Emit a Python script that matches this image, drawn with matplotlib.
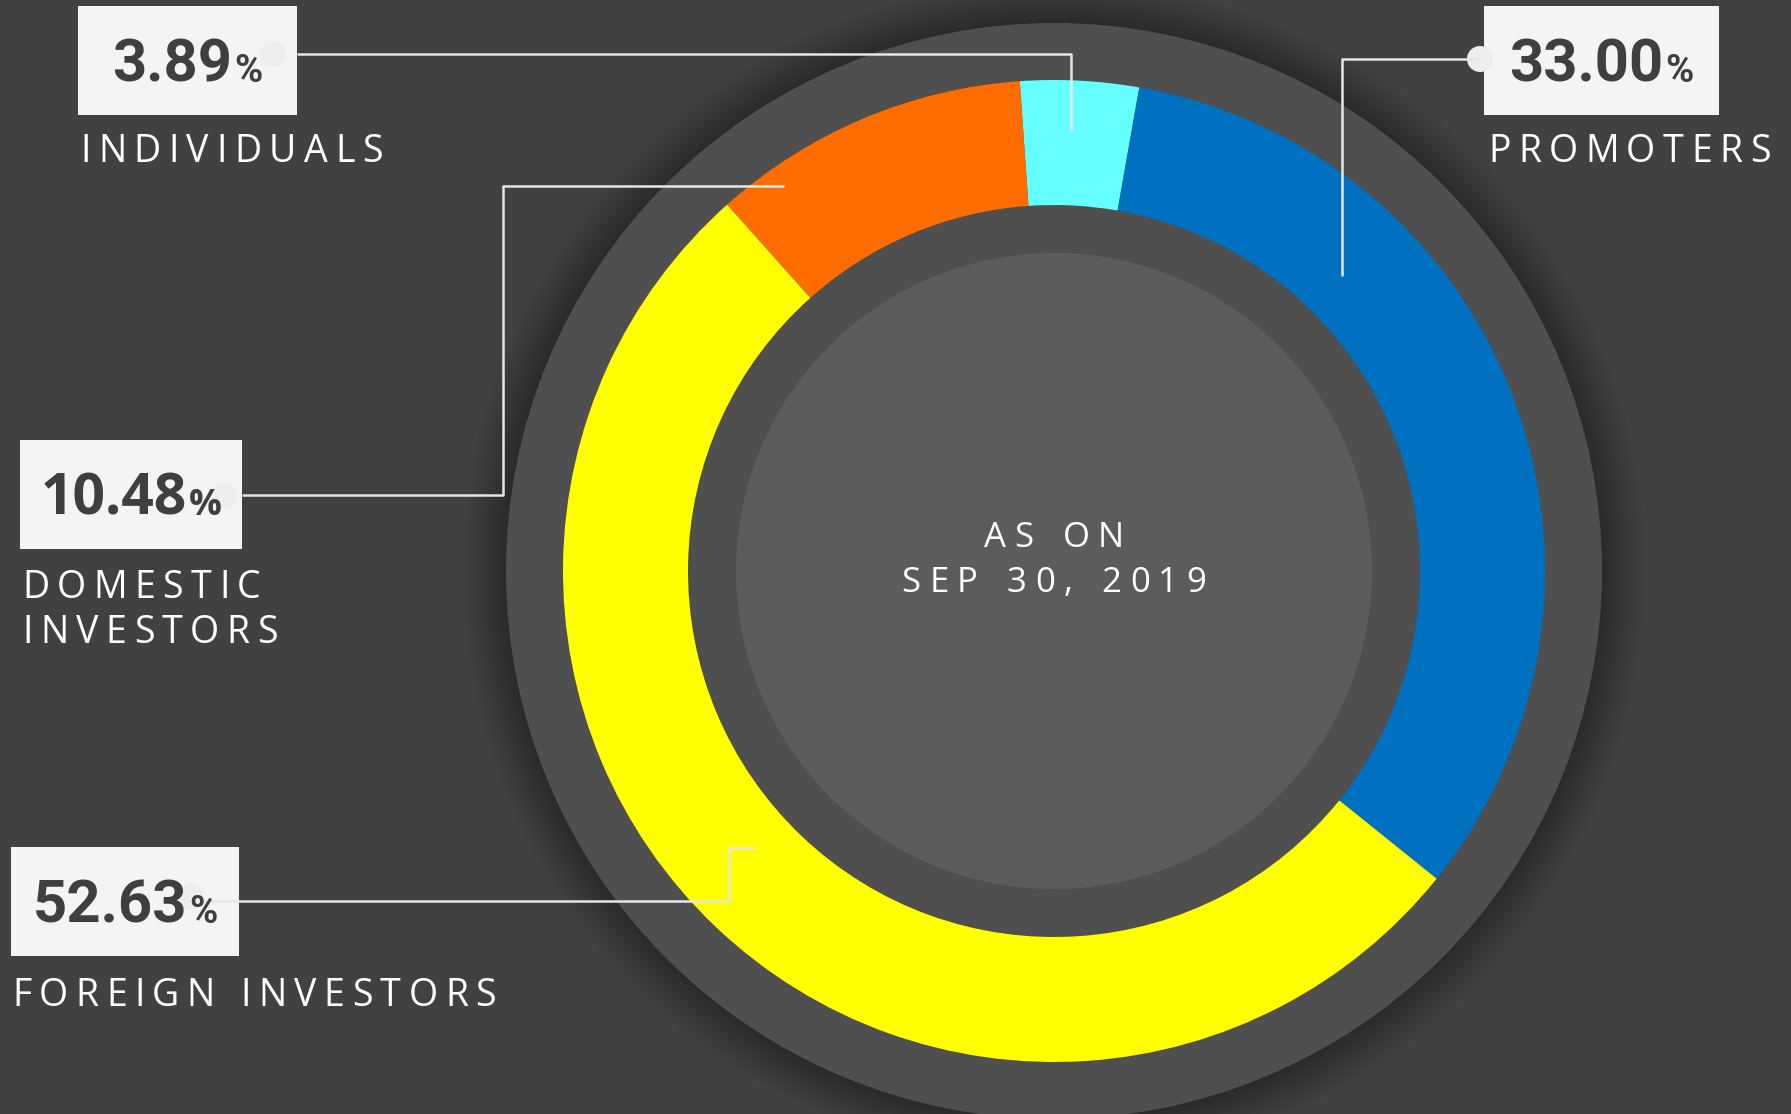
import matplotlib
matplotlib.use("Agg")
import matplotlib.pyplot as plt
from matplotlib.patches import Circle, Rectangle

W, H = 1791, 1114

# shareholding pattern
groups = ["INDIVIDUALS", "PROMOTERS", "FOREIGN INVESTORS", "DOMESTIC\nINVESTORS"]
shares = [3.89, 33.00, 52.63, 10.48]
colors = ["#66ffff", "#0070c0", "#ffff00", "#ff6d00"]
center_lines = ["AS ON", "SEP 30, 2019"]

BG = "#414141"
BAND = "#4f4f4f"
HUB = "#5c5c5c"
BOX = "#f4f4f4"
INK = "#3f3f3f"
LINE = "#e6e6e6"

# label furniture, in pixel coords measured from the top-left corner
boxes = [(78, 6, 219, 109), (1484, 6, 235, 109), (11, 847, 228, 109), (20, 440, 222, 109)]
label_pos = [(80, 162), (1488, 162), (12, 1006), (22, 598)]
num_fonts = ["Roboto", "Roboto", "Roboto", "Open Sans"]
num_sizes = [43, 43, 43, 41]
dots = [(273, 54), (1480, 59), (190, 897), (224, 495)]
leaders = [
    [(297, 54), (1071, 54), (1071, 131)],
    [(1480, 59), (1342, 59), (1342, 276)],
    [(200, 901), (729, 901), (729, 848), (755, 848)],
    [(242, 495), (503, 495), (503, 186), (784, 186)],
]

fig = plt.figure(figsize=(W / 100, H / 100), dpi=100, facecolor=BG)
ax = fig.add_axes([0, 0, 1, 1])
ax.set_facecolor(BG)
renderer = fig.canvas.get_renderer()


def Y(y):
    return H - y


def ink_width(s, **kw):
    t = ax.text(0, 0, s, **kw)
    w = t.get_window_extent(renderer).width
    t.remove()
    return w


def tracked(x, y, s, size, gap, space, ha="left", color="white"):
    kw = dict(fontsize=size, family="Open Sans", color=color)
    widths = [space if ch == " " else ink_width(ch, **kw) for ch in s]
    total = sum(widths) + gap * (len(s) - 1)
    if ha == "center":
        x -= total / 2
    for ch, w in zip(s, widths):
        if ch != " ":
            ax.text(x, Y(y), ch, ha="left", va="baseline", zorder=10, **kw)
        x += w + gap


cx, cy = 1054, Y(571)

# soft shadow round the outer disc
for i in range(22):
    ax.add_patch(Circle((cx, cy), 548 + 44 - i * 2, color="black", alpha=0.005, lw=0, zorder=1))
ax.add_patch(Circle((cx, cy), 548, color=BAND, lw=0, zorder=2))

ax.pie(shares, colors=colors, radius=491, center=(cx, cy), startangle=94,
       counterclock=False, wedgeprops=dict(width=125, linewidth=0, zorder=3))
ax.add_patch(Circle((cx, cy), 318, color=HUB, lw=0, zorder=4))

tracked(cx, 547, center_lines[0], 25, 8.5, 12, ha="center")
tracked(cx, 592, center_lines[1], 25, 8.5, 12, ha="center")

for i, name in enumerate(groups):
    bx, by, bw, bh = boxes[i]
    ax.add_patch(Rectangle((bx, Y(by + bh)), bw, bh, color=BOX, lw=0, zorder=5))
    ax.add_patch(Circle((dots[i][0], Y(dots[i][1])), 13, color="#ededed", lw=0, zorder=6))
    xs = [p[0] for p in leaders[i]]
    ys = [Y(p[1]) for p in leaders[i]]
    ax.plot(xs, ys, color=LINE, lw=1.8, zorder=7, solid_capstyle="butt")

    # value with a smaller percent sign, centred in its box
    num = f"{shares[i]:.2f}"
    nkw = dict(fontsize=num_sizes[i], family=num_fonts[i], fontweight="bold", color=INK)
    pkw = dict(fontsize=num_sizes[i] * 0.64, family=num_fonts[i], fontweight="bold", color=INK)
    wn = ink_width(num, **nkw)
    wp = ink_width("%", **pkw)
    x0 = bx + bw / 2 - (wn + 2 + wp) / 2
    cap = num_sizes[i] * 100 / 72 * 0.71
    base = by + bh / 2 + cap / 2
    ax.text(x0, Y(base), num, ha="left", va="baseline", zorder=8, **nkw)
    ax.text(x0 + wn + 2, Y(base), "%", ha="left", va="baseline", zorder=8, **pkw)

    lx, ly = label_pos[i]
    for k, line in enumerate(name.split("\n")):
        tracked(lx, ly + 45 * k, line, 27, 7.5, 10)

ax.set_xlim(0, W)
ax.set_ylim(0, H)
ax.set_aspect("equal")
ax.axis("off")

fig.savefig("out.png", dpi=100, facecolor=BG)
